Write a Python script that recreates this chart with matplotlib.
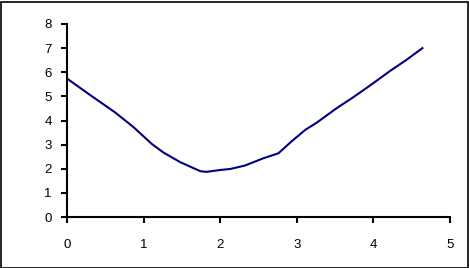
import matplotlib
matplotlib.use("Agg")
import matplotlib.pyplot as plt
from matplotlib.patches import Rectangle

x_vals = [0.0, 0.30, 0.63, 0.87, 1.11, 1.26, 1.48, 1.74, 1.82, 2.0, 2.13, 2.32, 2.56, 2.76, 2.93, 3.11, 3.26, 3.52, 3.74, 4.00, 4.22, 4.43, 4.64]
y_vals = [5.74, 5.06, 4.33, 3.72, 3.02, 2.67, 2.27, 1.90, 1.87, 1.95, 1.99, 2.13, 2.43, 2.64, 3.13, 3.61, 3.91, 4.51, 4.97, 5.55, 6.06, 6.51, 7.00]
x_ticks = [0, 1, 2, 3, 4, 5]
y_ticks = [0, 1, 2, 3, 4, 5, 6, 7, 8]

plt.rcParams['font.family'] = ['Liberation Sans', 'DejaVu Sans']
W, H = 469, 268
fig = plt.figure(figsize=(W/100, H/100), dpi=100)
ax = fig.add_axes([67/W, 1-217/H, (450-67)/W, (217-24)/H])
ax.plot(x_vals, y_vals, color='#000080', lw=1.5, solid_joinstyle='round')
ax.set_xlim(0, 5)
ax.set_ylim(0, 8)
ax.set_xticks(x_ticks)
ax.set_yticks(y_ticks)
for s in ['top', 'right']:
    ax.spines[s].set_visible(False)
for s in ['left', 'bottom']:
    ax.spines[s].set_linewidth(1.5)
    ax.spines[s].set_color('black')
ax.tick_params(axis='both', direction='out', length=4, width=1.5, labelsize=9.5, colors='black')
ax.tick_params(axis='x', pad=12)
ax.tick_params(axis='y', pad=7)
fig.patches.append(Rectangle((0.5/W, 0.5/H), 1-2/W, 1-2/H, transform=fig.transFigure,
                             fill=False, edgecolor='black', lw=1.2))
fig.savefig('out.png', dpi=100)
